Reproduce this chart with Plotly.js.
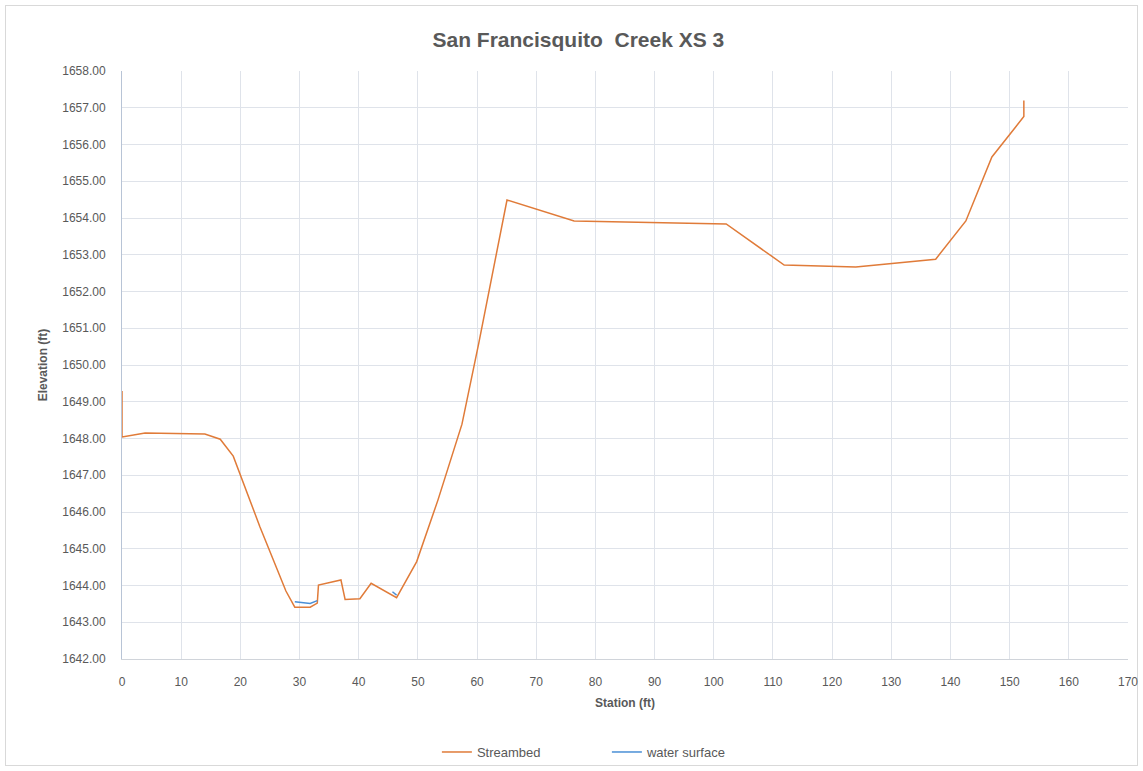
<!DOCTYPE html>
<html>
<head>
<meta charset="utf-8">
<script src="https://cdn.plot.ly/plotly-3.0.1.min.js"></script>
<style>
html,body{margin:0;padding:0;background:#fff;}
#frame{position:absolute;left:5px;top:5px;width:1133px;height:761px;border:1px solid #d9d9d9;box-sizing:border-box;}
#chart{position:absolute;left:0;top:0;width:1143px;height:771px;}
</style>
</head>
<body>
<div id="frame"></div>
<div id="chart"></div>
<script>
const streambedStation = [0, 0, 3.9, 14.0, 16.6, 18.8, 23.3, 27.7, 29.2, 31.8, 33.0, 33.2, 37.0, 37.7, 40.2, 42.1, 46.4, 49.8, 53.4, 57.45, 60.3, 65.06, 76.4, 102.1, 111.9, 124.0, 137.5, 142.6, 147.0, 152.4, 152.4];
const streambedElev = [1649.29, 1648.04, 1648.15, 1648.12, 1647.98, 1647.52, 1645.6, 1643.85, 1643.41, 1643.41, 1643.52, 1644.01, 1644.15, 1643.62, 1643.64, 1644.06, 1643.67, 1644.65, 1646.33, 1648.39, 1650.6, 1654.49, 1653.92, 1653.84, 1652.72, 1652.67, 1652.88, 1653.92, 1655.66, 1656.76, 1657.2];
const waterStation = [29.2, 31.8, 33.0, null, 45.7, 46.4];
const waterElev = [1643.56, 1643.51, 1643.59, null, 1643.83, 1643.74];
const chartTitle = "San Francisquito  Creek XS 3";
const xTitle = "Station (ft)";
const yTitle = "Elevation (ft)";

const font = "Liberation Sans, Arial, sans-serif";
const traces = [
  {x: streambedStation, y: streambedElev, type: 'scatter', mode: 'lines', name: 'Streambed',
   line: {color: '#e07b39', width: 1.5}},
  {x: waterStation, y: waterElev, type: 'scatter', mode: 'lines', name: 'water surface',
   line: {color: '#4a8fd6', width: 1.5}, connectgaps: false}
];
const layout = {
  width: 1143, height: 771,
  margin: {l: 122, r: 15, t: 71, b: 112, autoexpand: false},
  paper_bgcolor: 'rgba(0,0,0,0)', plot_bgcolor: '#fff',
  font: {family: font, color: '#595959', size: 12},
  title: {text: chartTitle, x: 0.506, xanchor: 'center', y: 0.948, yanchor: 'middle',
          font: {family: font, size: 21, color: '#595959', weight: 'bold'}},
  xaxis: {range: [0, 170], dtick: 10, tick0: 0, showgrid: true, gridcolor: '#dfe3ea', gridwidth: 1,
          zeroline: false, showline: true, linecolor: '#d0d4da', linewidth: 1, ticks: '',
          ticklabelstandoff: 12, tickfont: {size: 12, color: '#595959'},
          title: {text: xTitle, standoff: 10, font: {size: 12, color: '#595959', weight: 'bold'}}},
  yaxis: {range: [1642, 1658], dtick: 1, tick0: 1642, tickformat: '.2f', showgrid: true,
          gridcolor: '#dfe3ea', gridwidth: 1, zeroline: false, showline: true, linecolor: '#b8c4d6',
          linewidth: 1, ticks: '', ticklabelstandoff: 13, tickfont: {size: 12, color: '#595959'},
          title: {text: yTitle, standoff: 12, font: {size: 12, color: '#595959', weight: 'bold'}}},
  showlegend: true,
  legend: {orientation: 'h', x: 0.482, xanchor: 'center', yref: 'container', y: 0.0246, yanchor: 'middle',
           font: {size: 13, color: '#595959'}, bgcolor: 'rgba(0,0,0,0)', itemwidth: 30, entrywidth: 125}
};
Plotly.newPlot('chart', traces, layout, {displayModeBar: false, staticPlot: true});
</script>
</body>
</html>
